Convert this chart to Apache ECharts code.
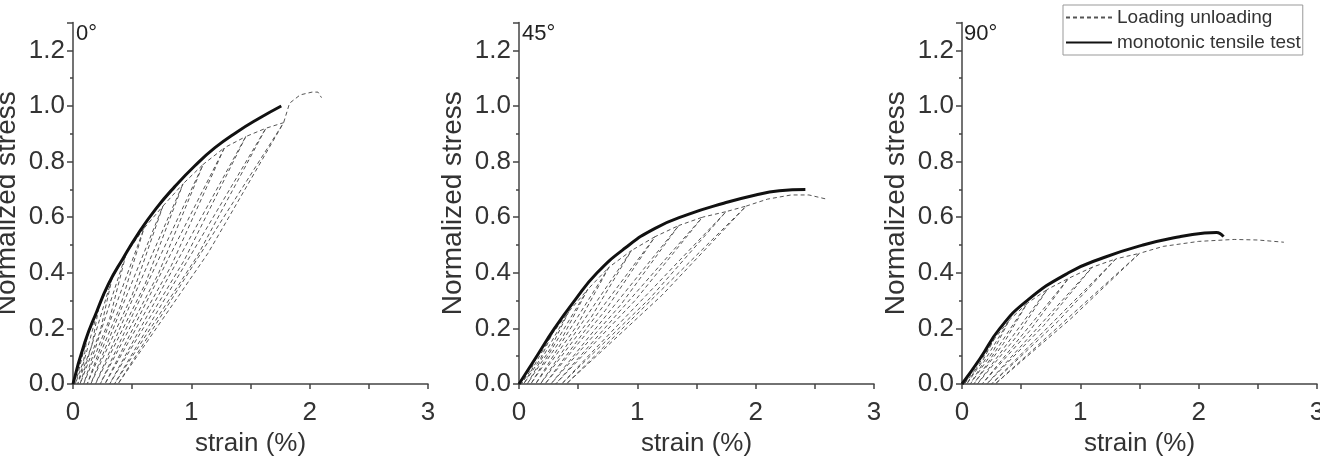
<!DOCTYPE html>
<html>
<head>
<meta charset="utf-8">
<script src="https://cdn.jsdelivr.net/npm/echarts@6/dist/echarts.min.js"></script>
<style>
  html, body { margin: 0; padding: 0; background: #fff; }
  #main { width: 1320px; height: 463px; }
</style>
</head>
<body>
<div id="main"></div>
<script>
// panel names
var panels = ["0°", "45°", "90°"];

// monotonic tensile test curves [strain %, normalized stress]
var mono0 = [[0,0],[0.1,0.15],[0.2,0.26],[0.3,0.36],[0.42,0.45],[0.55,0.54],[0.7,0.63],[0.86,0.71],[1.03,0.785],[1.2,0.85],[1.38,0.905],[1.57,0.955],[1.76,1.0]];
var mono45 = [[0,0],[0.15,0.1],[0.3,0.2],[0.47,0.3],[0.66,0.4],[0.9,0.49],[1.15,0.56],[1.43,0.61],[1.73,0.65],[2.0,0.68],[2.2,0.695],[2.42,0.7]];
var mono90 = [[0,0],[0.15,0.09],[0.32,0.2],[0.55,0.3],[0.9,0.4],[1.2,0.455],[1.53,0.5],[1.84,0.53],[2.05,0.543],[2.15,0.545],[2.21,0.53]];

// loading / unloading cycles: peak, unloading mid point, residual strain
var peaks0 = [[0.12,0.17],[0.22,0.28],[0.33,0.38],[0.45,0.47],[0.6,0.56],[0.76,0.64],[0.93,0.72],[1.1,0.79],[1.28,0.85],[1.46,0.89],[1.63,0.92],[1.78,0.94]];
var mids0 = [[0.09,0.085],[0.16,0.14],[0.23,0.19],[0.31,0.235],[0.4,0.28],[0.5,0.32],[0.61,0.36],[0.72,0.395],[0.83,0.425],[0.94,0.445],[1.05,0.46],[1.14,0.47]];
var res0 = [0.02,0.04,0.06,0.09,0.12,0.15,0.19,0.23,0.27,0.31,0.35,0.38];
var tail0 = [[1.83,1.01],[1.92,1.04],[2.02,1.05],[2.07,1.05],[2.1,1.03]];

var peaks45 = [[0.15,0.1],[0.28,0.18],[0.42,0.26],[0.58,0.34],[0.76,0.42],[0.95,0.48],[1.15,0.53],[1.35,0.57],[1.55,0.6],[1.75,0.62],[1.92,0.64]];
var mids45 = [[0.1,0.05],[0.18,0.09],[0.27,0.13],[0.37,0.17],[0.49,0.21],[0.61,0.24],[0.73,0.265],[0.86,0.285],[0.98,0.3],[1.11,0.31],[1.21,0.32]];
var res45 = [0.02,0.04,0.07,0.1,0.14,0.18,0.22,0.27,0.31,0.36,0.4];
var tail45 = [[2.1,0.665],[2.3,0.68],[2.45,0.68],[2.6,0.665]];

var peaks90 = [[0.15,0.09],[0.27,0.16],[0.4,0.23],[0.55,0.29],[0.72,0.34],[0.9,0.38],[1.1,0.42],[1.3,0.45],[1.5,0.47]];
var mids90 = [[0.1,0.045],[0.17,0.08],[0.26,0.115],[0.35,0.145],[0.46,0.17],[0.57,0.19],[0.69,0.21],[0.81,0.225],[0.92,0.235]];
var res90 = [0.02,0.04,0.07,0.1,0.13,0.17,0.21,0.25,0.28];
var tail90 = [[1.7,0.495],[2.0,0.513],[2.3,0.52],[2.5,0.518],[2.72,0.51]];

// chain the cycles into one path
function cyclePath(peaks, mids, res, tail) {
  var path = [[0, 0]];
  for (var i = 0; i < peaks.length; i++) {
    path.push(peaks[i], mids[i], [res[i], 0], peaks[i]);
  }
  return path.concat(tail);
}

var monoData = [mono0, mono45, mono90];
var cycleData = [
  cyclePath(peaks0, mids0, res0, tail0),
  cyclePath(peaks45, mids45, res45, tail45),
  cyclePath(peaks90, mids90, res90, tail90)
];

var gridLeft = [73, 519, 962];
var titleLeft = [76, 522, 964];
var font = "Liberation Sans, Arial, sans-serif";

var chart = echarts.init(document.getElementById("main"));

var grid = [], xAxis = [], yAxis = [], series = [], title = [];
for (var k = 0; k < 3; k++) {
  grid.push({ left: gridLeft[k], top: 22.6, width: 355, height: 361.4, outerBoundsMode: "none", containLabel: false });
  xAxis.push({
    type: "value", gridIndex: k, min: 0, max: 3, interval: 1,
    name: "strain (%)", nameLocation: "middle", nameGap: 44,
    nameTextStyle: { fontSize: 26, color: "#333", fontFamily: font },
    axisLine: { lineStyle: { color: "#444", width: 1.5 } },
    axisTick: { length: 5, lineStyle: { color: "#444", width: 1.5 } },
    minorTick: { show: true, splitNumber: 2, length: 5, lineStyle: { color: "#444", width: 1.5 } },
    axisLabel: { fontSize: 26, color: "#333", margin: 16, fontFamily: font },
    splitLine: { show: false }
  });
  yAxis.push({
    type: "value", gridIndex: k, min: 0, max: 1.3, interval: 0.2,
    name: "Normalized stress", nameLocation: "middle", nameGap: 52,
    nameTextStyle: { fontSize: 28, color: "#333", fontFamily: font },
    axisLine: { show: true, lineStyle: { color: "#444", width: 1.5 } },
    axisTick: { length: 6, lineStyle: { color: "#444", width: 1.5 } },
    minorTick: { show: true, splitNumber: 2, length: 3, lineStyle: { color: "#444", width: 1.5 } },
    axisLabel: {
      fontSize: 26, color: "#333", margin: 8, fontFamily: font, showMaxLabel: false,
      formatter: function (v) { return v.toFixed(1); }
    },
    splitLine: { show: false }
  });
  title.push({
    text: panels[k], left: titleLeft[k], top: 23, padding: 0,
    textStyle: { fontSize: 22, fontWeight: "normal", color: "#222", fontFamily: font }
  });
  series.push({
    name: "Loading unloading", type: "line", xAxisIndex: k, yAxisIndex: k,
    data: cycleData[k], symbol: "none", color: "#555",
    lineStyle: { color: "#555", width: 1, type: [4, 3] }
  });
  series.push({
    name: "monotonic tensile test", type: "line", xAxisIndex: k, yAxisIndex: k,
    data: monoData[k], symbol: "none", smooth: 0.5, color: "#111",
    lineStyle: { color: "#111", width: 3 }
  });
}

var option = {
  animation: false,
  title: title,
  legend: {
    data: ["Loading unloading", "monotonic tensile test"],
    orient: "vertical", left: 1063, top: 5,
    borderColor: "#999", borderWidth: 1, padding: [3, 2, 3, 2],
    itemWidth: 46, itemHeight: 14, itemGap: 6,
    itemStyle: { opacity: 0 },
    textStyle: { fontSize: 19, color: "#333", fontFamily: font }
  },
  grid: grid,
  xAxis: xAxis,
  yAxis: yAxis,
  series: series
};

option && chart.setOption(option);
</script>
</body>
</html>
